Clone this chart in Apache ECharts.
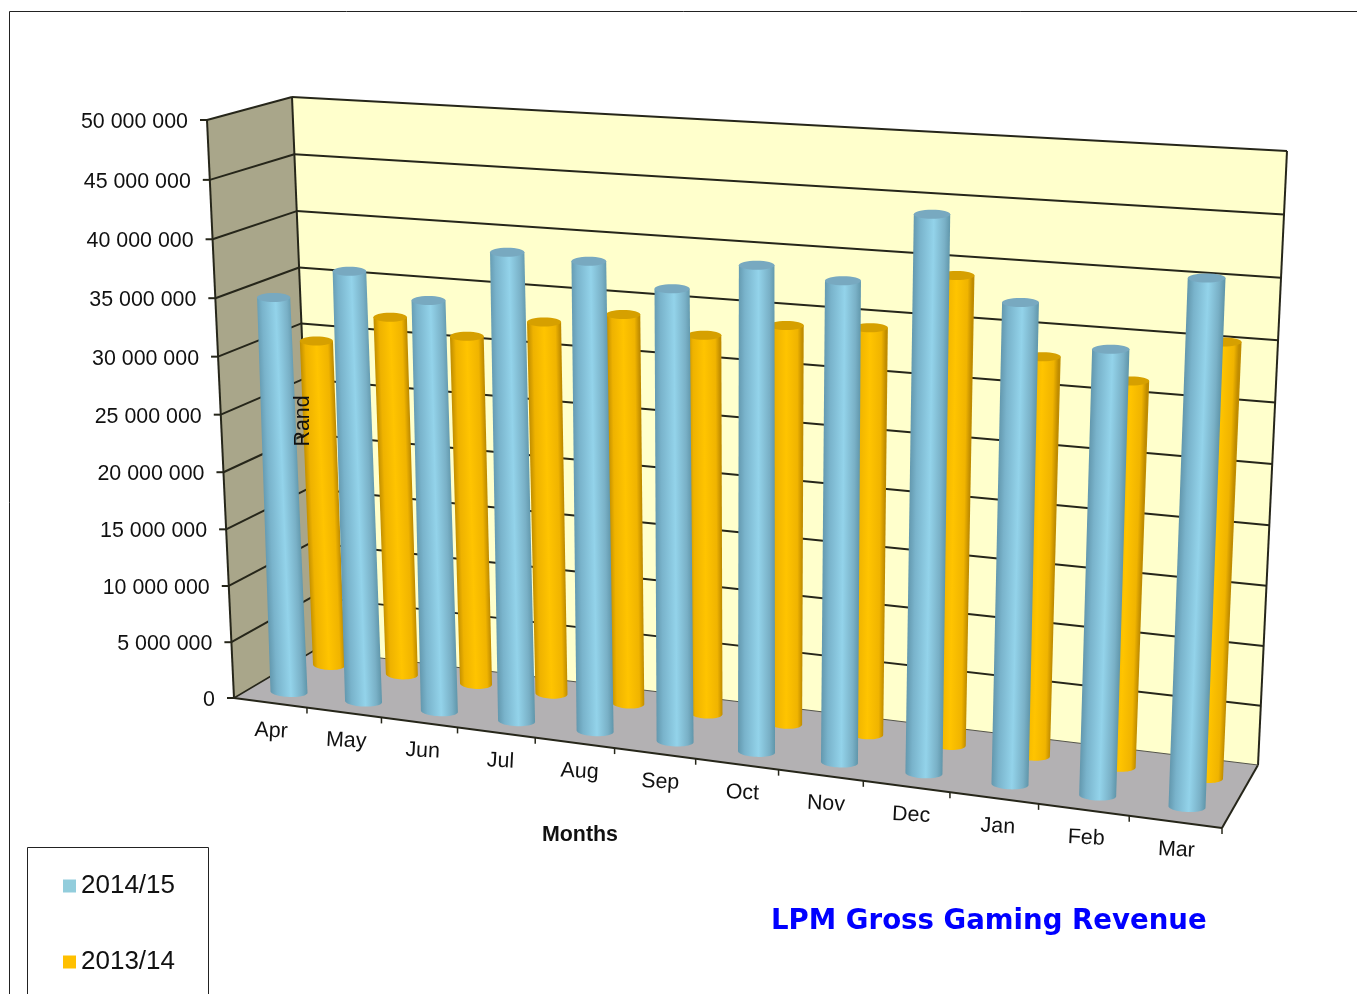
<!DOCTYPE html>
<html>
    <head>
        <title>LPM Gross Gaming Revenue</title>
        <meta charset="UTF-8">
        <script src="https://cdn.jsdelivr.net/npm/echarts@6/dist/echarts.min.js"></script>
        <style>
            html, body { margin: 0; padding: 0; background: #fff; overflow: hidden; }
        </style>
    </head>
    <body>
        <div id="chart" style="width: 1357px; height: 994px;"></div>
        <script>
            const months = ['Apr', 'May', 'Jun', 'Jul', 'Aug', 'Sep', 'Oct', 'Nov', 'Dec', 'Jan', 'Feb', 'Mar'];
            const rev1415 = [33.6, 36.4, 34.5, 39.1, 38.9, 37.2, 39.7, 39.0, 44.9, 38.4, 35.3, 41.5].map(v => v * 1e6);
            const rev1314 = [27.6, 30.2, 29.2, 31.0, 32.2, 31.1, 32.5, 32.9, 37.7, 31.8, 30.5, 34.2].map(v => v * 1e6);
            const yTicks = [0, 5e6, 10e6, 15e6, 20e6, 25e6, 30e6, 35e6, 40e6, 45e6, 50e6];
            const yTickLabels = ['0', '5 000 000', '10 000 000', '15 000 000', '20 000 000', '25 000 000',
                '30 000 000', '35 000 000', '40 000 000', '45 000 000', '50 000 000'];

            const FONT = '"Liberation Sans", Arial, sans-serif';
            const LINE = '#26261a';

            // the 3d box as it sits on the page
            const F00 = [234, 698], F10 = [1222, 828], F01 = [207, 120], F11 = [1248, 188];
            const B00 = [315, 650], B10 = [1258, 765], B01 = [292, 97], B11 = [1287, 151];
            const lerp = (a, b, t) => [a[0] + (b[0] - a[0]) * t, a[1] + (b[1] - a[1]) * t];
            const warpU = u => u / (u + 1.14 * (1 - u));
            const warpV = v => v / (v + 1.04 * (1 - v));
            const warpBar = u => u / (u + 1.115 * (1 - u));

            // u along months, v up the value axis, w into the depth (0 front, 1 back)
            function box(u, v, w) {
                const s = warpU(u), t = warpV(v);
                const front = lerp(lerp(F00, F10, s), lerp(F01, F11, s), t);
                const back = lerp(lerp(B00, B10, s), lerp(B01, B11, s), t);
                return lerp(front, back, w);
            }

            // the cylinders stand on their own two rows
            const rows = {
                blue: {from: [289, 692], to: [1187, 807]},
                orange: {from: [329, 665], to: [1207, 778]}
            };
            const S0 = warpBar(0.5 / 12), S1 = warpBar(11.5 / 12);

            function toUnit(api, params, i, value) {
                const p = api.coord([i, value]);
                const c = params.coordSys;
                return [(p[0] - c.x) / c.width, (c.y + c.height - p[1]) / c.height];
            }

            function cylinder(row, baseR, topRFn, stops, topFill) {
                return function (params, api) {
                    const [u, v] = toUnit(api, params, api.value(0), api.value(1));
                    const s = warpU(u);
                    const base = lerp(rows[row].from, rows[row].to, (warpBar(u) - S0) / (S1 - S0));
                    const h = v * (585 + 55 * s);
                    const top = [base[0] + h * (-0.042 + 0.083 * s), base[1] - h];
                    const topR = topRFn(s);
                    const len = Math.hypot(top[0] - base[0], top[1] - base[1]);
                    const nx = (base[1] - top[1]) / len, ny = (top[0] - base[0]) / len;
                    const pts = [];
                    for (let a = 0; a <= 24; a++) {
                        const ang = Math.PI * a / 24;
                        pts.push([
                            base[0] + Math.cos(ang) * baseR,
                            base[1] + Math.sin(ang) * 5 + Math.cos(ang) * baseR * 0.04
                        ]);
                    }
                    pts.push([top[0] - topR, top[1]], [top[0] + topR, top[1]]);
                    const fill = new echarts.graphic.LinearGradient(
                        base[0] - nx * baseR, base[1] - ny * baseR,
                        base[0] + nx * baseR, base[1] + ny * baseR, stops, true);
                    return {
                        type: 'group',
                        children: [
                            {type: 'polygon', shape: {points: pts}, style: {fill: fill}},
                            {type: 'ellipse', shape: {cx: top[0], cy: top[1], rx: topR, ry: 4.5}, style: {fill: topFill}}
                        ]
                    };
                };
            }

            function drawWalls() {
                const line = (a, b) => ({type: 'line', shape: {x1: a[0], y1: a[1], x2: b[0], y2: b[1]},
                    style: {stroke: LINE, lineWidth: 2}});
                return {
                    type: 'group',
                    children: [
                        {type: 'polygon', shape: {points: [F00, F01, B01, B00]}, style: {fill: '#a9a68a'}},
                        {type: 'polygon', shape: {points: [B00, B01, B11, B10]}, style: {fill: '#ffffcc'}},
                        {type: 'polygon', shape: {points: [F00, F10, B10, B00]}, style: {fill: '#b3b1b3'}},
                        line(F00, F01), line(B00, B01), line(B10, B11), line(F00, F10), line(F10, B10),
                        {type: 'line', shape: {x1: F00[0], y1: F00[1], x2: B00[0], y2: B00[1]},
                            style: {stroke: LINE, lineWidth: 1.5}},
                        {type: 'line', shape: {x1: B00[0], y1: B00[1], x2: B10[0], y2: B10[1]},
                            style: {stroke: '#55554a', lineWidth: 1}}
                    ]
                };
            }

            function drawYTick(params, api) {
                const v = toUnit(api, params, 0, api.value(1))[1];
                const front = box(0, v, 0), corner = box(0, v, 1), right = box(1, v, 1);
                const stroke = {stroke: LINE, lineWidth: 2};
                const kids = [
                    {type: 'line', shape: {x1: front[0] - 7, y1: front[1], x2: front[0], y2: front[1]}, style: stroke},
                    {type: 'text', style: {x: front[0] - 19, y: front[1] + 2, text: yTickLabels[params.dataIndex],
                        fill: '#111', font: '21.4px ' + FONT, align: 'right', verticalAlign: 'middle'}}
                ];
                if (v > 0) {
                    kids.push(
                        {type: 'line', shape: {x1: front[0], y1: front[1], x2: corner[0], y2: corner[1]}, style: stroke},
                        {type: 'line', shape: {x1: corner[0], y1: corner[1], x2: right[0], y2: right[1]}, style: stroke}
                    );
                }
                return {type: 'group', children: kids};
            }

            function drawMonth(params, api) {
                const i = api.value(0);
                const u = toUnit(api, params, i, 0)[0];
                const mid = lerp(F00, F10, warpBar(u));
                const tick = box((i + 1) / 12, 0, 0);
                return {
                    type: 'group',
                    children: [
                        {type: 'line', shape: {x1: tick[0], y1: tick[1], x2: tick[0], y2: tick[1] + 6},
                            style: {stroke: LINE, lineWidth: 1.5}},
                        {type: 'text', x: mid[0], y: mid[1] + 28, rotation: -0.05,
                            style: {x: 0, y: 0, text: months[i], fill: '#111', font: '21.4px ' + FONT,
                                align: 'center', verticalAlign: 'middle'}}
                    ]
                };
            }

            const blueStops = [
                {offset: 0, color: '#6398ae'}, {offset: 0.18, color: '#79b3cb'},
                {offset: 0.55, color: '#93d3ea'}, {offset: 0.85, color: '#79b0c6'}, {offset: 1, color: '#6096aa'}
            ];
            const orangeStops = [
                {offset: 0, color: '#c69200'}, {offset: 0.15, color: '#eeb200'},
                {offset: 0.5, color: '#ffc400'}, {offset: 0.85, color: '#f0b400'}, {offset: 1, color: '#c08c00'}
            ];

            const chart = echarts.init(document.getElementById('chart'));
            chart.setOption({
                animation: false,
                backgroundColor: '#fff',
                title: {
                    text: 'LPM Gross Gaming Revenue',
                    left: 771, top: 908, padding: 0,
                    textStyle: {color: '#0000ff', fontFamily: 'DejaVu Sans', fontWeight: 'bold', fontSize: 27.6}
                },
                legend: {
                    data: ['2014/15', '2013/14'],
                    orient: 'vertical',
                    left: 63, top: 873, padding: 0,
                    itemWidth: 13, itemHeight: 13, itemGap: 50, icon: 'rect',
                    selectedMode: false,
                    textStyle: {fontFamily: FONT, fontSize: 26, color: '#111'}
                },
                grid: {left: 0, right: 0, top: 0, bottom: 0},
                xAxis: {type: 'category', data: months, show: false},
                yAxis: {type: 'value', min: 0, max: 50e6, interval: 5e6, show: false},
                graphic: [
                    {type: 'polyline', z: 50, shape: {points: [[9.5, 994], [9.5, 11.5], [1357, 11.5]]},
                        style: {stroke: '#222', lineWidth: 1, fill: null}},
                    {type: 'polyline', z: 50, shape: {points: [[27.5, 994], [27.5, 847.5], [208.5, 847.5], [208.5, 994]]},
                        style: {stroke: '#222', lineWidth: 1, fill: null}},
                    {type: 'text', z: 50, x: 580, y: 835, style: {text: 'Months', fill: '#111',
                        font: 'bold 21.4px ' + FONT, align: 'center', verticalAlign: 'middle'}},
                    {type: 'text', z: 50, x: 303, y: 421, rotation: Math.PI / 2, style: {text: 'Rand', fill: '#111',
                        font: '21.4px ' + FONT, align: 'center', verticalAlign: 'middle'}}
                ],
                series: [
                    {type: 'custom', name: 'walls', z: 1, data: [[0, 0]], renderItem: drawWalls, silent: true},
                    {type: 'custom', name: 'ticks', z: 2, data: yTicks.map(v => [0, v]), renderItem: drawYTick, silent: true},
                    {type: 'custom', name: 'months', z: 2, data: months.map((m, i) => [i, 0]), renderItem: drawMonth, silent: true},
                    {
                        type: 'custom', name: '2013/14', z: 3,
                        itemStyle: {color: '#ffc000'},
                        data: rev1314.map((v, i) => [i, v]),
                        renderItem: cylinder('orange', 16, s => 16.5 + 2 * s, orangeStops, '#d6a000')
                    },
                    {
                        type: 'custom', name: '2014/15', z: 4,
                        itemStyle: {color: '#92cddc'},
                        data: rev1415.map((v, i) => [i, v]),
                        renderItem: cylinder('blue', 18.5, s => 16.5 + 2.5 * s, blueStops, '#78a9c0')
                    }
                ]
            });
        </script>
    </body>
</html>
